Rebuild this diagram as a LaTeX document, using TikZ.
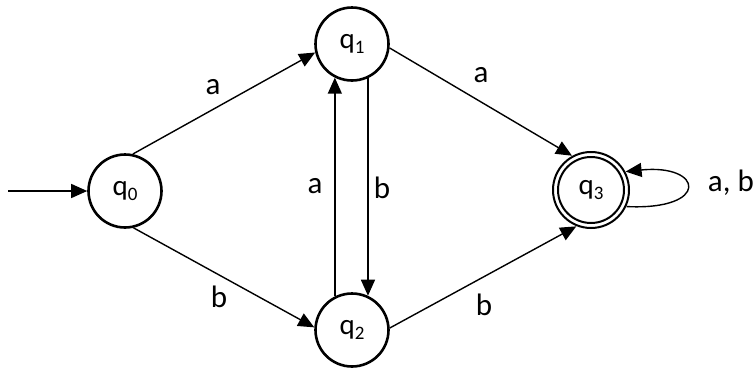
\documentclass[tikz,border=0pt]{standalone}
\usepackage{fontspec}
\setmainfont{Carlito}
\usetikzlibrary{arrows.meta}
\newcommand{\qsub}[1]{q\raisebox{-5pt}{\fontsize{19}{20}\selectfont #1}}
\begin{document}
\begin{tikzpicture}[x=1pt,y=-1pt,
  state/.style={circle,draw,line width=2.6pt,minimum size=73pt,inner sep=0pt,
    font=\fontsize{29}{32}\selectfont},
  trans/.style={line width=1.4pt,-{Triangle[length=16pt,width=14pt]}},
  lbl/.style={font=\fontsize{31}{34}\selectfont,inner sep=0pt}]
\useasboundingbox (0,0) rectangle (756,370);
\fill[white] (0,0) rectangle (756,370);
\node[state] (q0) at (125,191) {\qsub{0}};
\node[state] (q1) at (352,44) {\qsub{1}};
\node[state] (q2) at (352,330) {\qsub{2}};
\node[draw=none,circle,minimum size=78pt,font=\fontsize{29}{32}\selectfont] (q3) at (591,190) {\qsub{3}};
\draw[line width=2pt] (q3.center) circle[radius=38pt];
\draw[line width=2pt] (q3.center) circle[radius=33pt];
\coordinate (start) at (8,191);
\draw[trans] (start) -- (q0.west);
\draw[trans] (q0.78) -- (q1.193);
\draw[trans] (q0.283) -- (q2.176);
\draw[trans] (q1.-6) -- (q3.119);
\draw[trans] (q2.3) -- (q3.248);
\draw[trans] (q2.117) -- (q1.243);
\draw[trans] (q1.295) -- (q2.65);
\draw[trans] (q3.-25) .. controls +(84,4) and +(78,-8) .. (q3.28);
\node[lbl] (la) at (213,87) {a};
\node[lbl] (lb) at (219,297) {b};
\node[lbl] (la2) at (481,75) {a};
\node[lbl] (lb2) at (484,305) {b};
\node[lbl] (la3) at (315,186) {a};
\node[lbl] (lb3) at (382,188) {b};
\node[lbl,anchor=east] (lab) at (754,183) {a, b};
\end{tikzpicture}
\end{document}
